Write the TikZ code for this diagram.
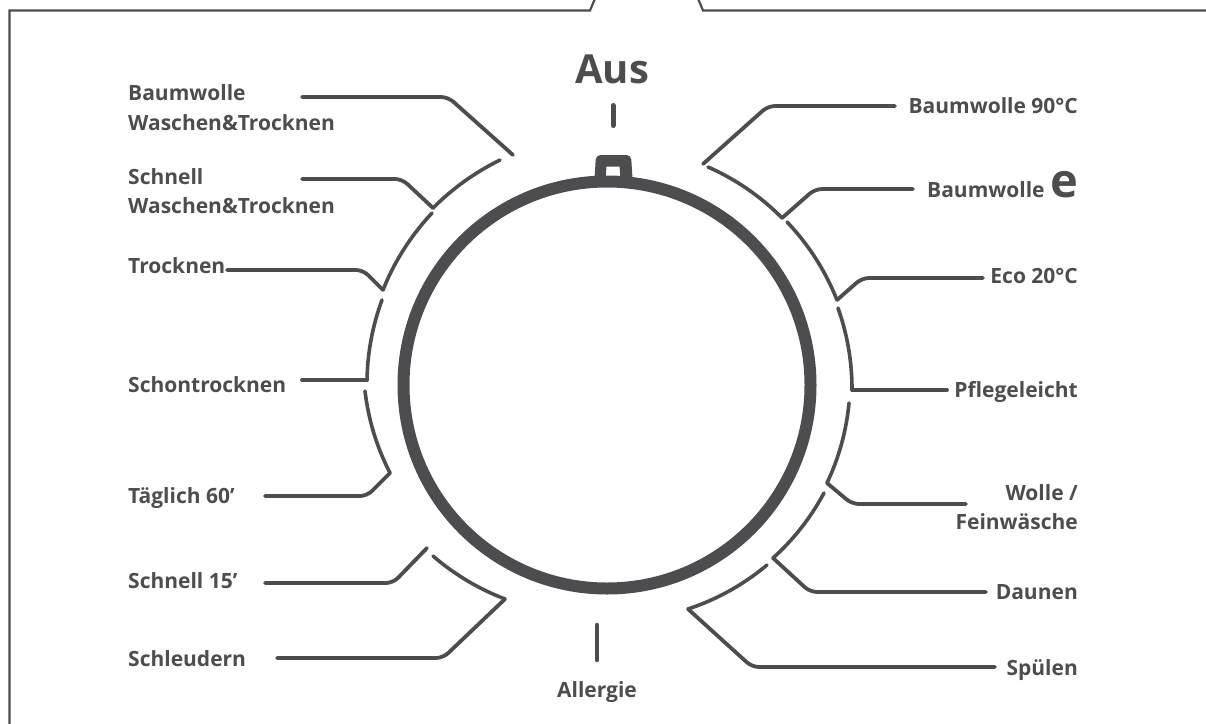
\documentclass[tikz,border=0pt]{standalone}
\usepackage{fontspec}
\newfontfamily\labfont{Open Sans}
\definecolor{ink}{RGB}{77,77,79}
\newcommand\dialseg[4]{\draw[seg] plot[domain=0:1,samples=40,smooth]
  ({609+((#2)+((#4)-(#2))*\x)*cos((#1)+((#3)-(#1))*\x)},
   {385+((#2)+((#4)-(#2))*\x)*sin((#1)+((#3)-(#1))*\x)});}
\begin{document}
\begin{tikzpicture}[x=1pt,y=-1pt,
  lbl/.style={font=\labfont\bfseries\fontsize{21}{25}\selectfont, text=ink, inner sep=0pt},
  leader/.style={draw=ink, line width=3.8pt, line cap=round, line join=round, rounded corners=7pt},
  seg/.style={draw=ink, line width=3.6pt, line cap=round},
  frameline/.style={draw=ink, line width=2.2pt},
  tick/.style={draw=ink, line cap=round}]
\useasboundingbox (0,0) rectangle (1206,723);
% frame
\draw[frameline] (9.5,730) -- (9.5,10.5) -- (590,10.5) -- (596.5,-5);
\draw[frameline] (696.5,-5) -- (703,10.5) -- (1215,10.5);
% knob and ring
\fill[ink, even odd rule]
  (594,186) [rounded corners=4.5pt] -- (596,155) -- (631,155) [sharp corners] -- (633,186) -- cycle
  (605,185) -- (606.5,166.5) -- (619.5,166.5) -- (621,185) -- cycle;
\coordinate (C) at (607,385);
\draw[ink, line width=12pt] (C) circle[radius=203.5];
% ticks
\coordinate (ausA) at (613,105.5); \coordinate (ausB) at (613,125.5);
\draw[tick, line width=5pt] (ausA) -- (ausB);
\coordinate (alA) at (597,625); \coordinate (alB) at (597,660);
\draw[tick, line width=4.5pt] (alA) -- (alB);
% labels left
\node[lbl, anchor=base west] (bw1) at (128,100) {Baumwolle};
\node[lbl, anchor=base west] (bw2) at (128,130) {Waschen\&Trocknen};
\node[lbl, anchor=base west] (sw1) at (128,184) {Schnell};
\node[lbl, anchor=base west] (sw2) at (128,213) {Waschen\&Trocknen};
\node[lbl, anchor=base west] (tr) at (128,273) {Trocknen};
\node[lbl, anchor=base west] (st) at (128,392) {Schontrocknen};
\node[lbl, anchor=base west] (tg) at (128,503) {Täglich 60’};
\node[lbl, anchor=base west] (s15) at (128,588) {Schnell 15’};
\node[lbl, anchor=base west] (sl) at (128,666) {Schleudern};
% labels right
\node[lbl, anchor=base east] (b90) at (1078,113) {Baumwolle 90°C};
\node[lbl, anchor=base east] (be) at (1078,197) {Baumwolle {\fontsize{47}{47}\selectfont e}};
\node[lbl, anchor=base east] (eco) at (1078,283) {Eco 20°C};
\node[lbl, anchor=base east] (pf) at (1078,397) {Pflegeleicht};
\node[lbl, anchor=base east] (wo1) at (1078,500) {Wolle /};
\node[lbl, anchor=base east] (wo2) at (1078,529) {Feinwäsche};
\node[lbl, anchor=base east] (dn) at (1078,599) {Daunen};
\node[lbl, anchor=base east] (sp) at (1078,675) {Spülen};
\node[lbl, anchor=base] (al) at (597,697) {Allergie};
\node[lbl, anchor=base, font=\labfont\bfseries\fontsize{40}{40}\selectfont] (aus) at (612,83) {Aus};
% leader coordinates
\coordinate (bwS) at (302,97);  \coordinate (bwT) at (513,155);
\coordinate (swS) at (302,179); \coordinate (swJ) at (433,208);
\coordinate (trS) at (227,270); \coordinate (trJ) at (383,290);
\coordinate (stS) at (302,380); \coordinate (stJ) at (367,380);
\coordinate (tgS) at (265,496); \coordinate (tgJ) at (390,473);
\coordinate (s15S) at (265,583); \coordinate (s15T) at (427,548);
\coordinate (slS) at (277,658); \coordinate (slJ) at (505,599);
\coordinate (b90S) at (895,106); \coordinate (b90T) at (703,164);
\coordinate (beS) at (913,189); \coordinate (beJ) at (782,218);
\coordinate (ecoS) at (983,278); \coordinate (ecoJ) at (837,300);
\coordinate (pfS) at (947,390); \coordinate (pfJ) at (852,390);
\coordinate (woS) at (966,504); \coordinate (woJ) at (827,483);
\coordinate (dnS) at (986,592); \coordinate (dnJ) at (773,558);
\coordinate (spS) at (995,667); \coordinate (spJ) at (688,609);
% leaders
\draw[leader] (bwS) -- (448,97) -- (bwT);
\draw[leader] (swS) -- (402,179) -- (swJ);
\draw[leader] (trS) -- (363,270) -- (trJ);
\draw[leader] (stS) -- (stJ);
\draw[leader] (tgS) -- (367,496) -- (tgJ);
\draw[leader] (s15S) -- (393,583) -- (s15T);
\draw[leader] (slS) -- (443,658) -- (slJ);
\draw[leader] (b90S) -- (768,106) -- (b90T);
\draw[leader] (beS) -- (815,189) -- (beJ);
\draw[leader] (ecoS) -- (862,278) -- (ecoJ);
\draw[leader] (pfS) -- (pfJ);
\draw[leader] (woS) -- (852,504) -- (woJ);
\draw[leader] (dnS) -- (810,592) -- (dnJ);
\draw[leader] (spS) -- (752,667) -- (spJ);
% outer arc segments
\dialseg{244.15}{250.0}{225.16}{249.6}
\dialseg{224.18}{246.8}{202.80}{245.2}
\dialseg{200.53}{242.4}{181.18}{242.05}
\dialseg{178.59}{244.07}{158.11}{236.0}
\dialseg{135.83}{245.4}{115.92}{237.9}
\dialseg{294.42}{239.4}{316.01}{240.5}
\dialseg{317.52}{241.4}{339.55}{243.3}
\dialseg{341.41}{241.6}{361.18}{243.05}
\dialseg{4.29}{240.7}{24.21}{239.0}
\dialseg{26.67}{240.6}{46.53}{238.4}
\dialseg{48.72}{239.5}{70.57}{237.5}
\end{tikzpicture}
\end{document}
